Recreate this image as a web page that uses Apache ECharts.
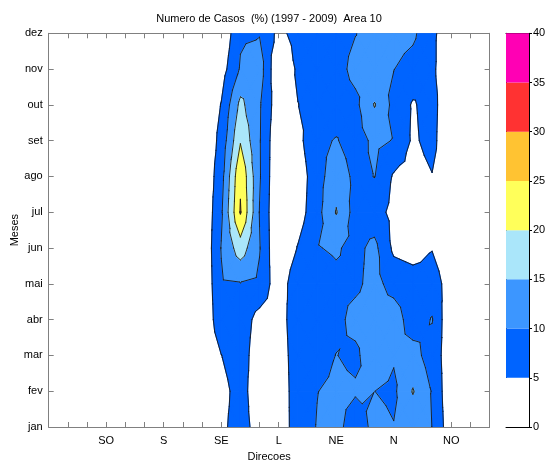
<!DOCTYPE html>
<html>
<head>
<meta charset="utf-8">
<script src="https://cdn.jsdelivr.net/npm/echarts@6/dist/echarts.min.js"></script>
<style>
  html, body { margin: 0; padding: 0; background: #fff; }
  #chart { width: 545px; height: 461px; }
</style>
</head>
<body>
<div id="chart"></div>
<script>
// months (rows, bottom to top) and direction labels
const meses = ['jan', 'fev', 'mar', 'abr', 'mai', 'jun', 'jul', 'ago', 'set', 'out', 'nov', 'dez'];
const direcoes = ['SO', 'S', 'SE', 'L', 'NE', 'N', 'NO'];
const niveis = [0, 5, 10, 15, 20, 25, 30, 35, 40];

// percent of cases per direction column (24 columns, 15 deg apart)
const casosJan = [0, 0, 0, 0, 0, 0, 0, 0, 0, 4.0, 7.0, 3.0, 2.0, 7.4, 10.2, 11.9, 6.8, 11.6, 10.2, 12.0, 9.95, 1.6, 0, 0];
const casosFev = [0, 0, 0, 0, 0, 0, 0, 0, 0, 3.3, 7.0, 1.7, 2.0, 7.5, 9.9, 11.0, 10.6, 10.02, 9.06, 15.3, 9.7, 0.7, 0, 0];
const casosMar = [0, 0, 0, 0, 0, 0, 0, 0, 0, 4.9, 8.0, 1.3, 2.0, 8.0, 8.0, 10.1, 9.0, 13.2, 10.5, 12.0, 7.5, 2.2, 0, 0];
const casosAbr = [0, 0, 0, 0, 0, 0, 0, 0, 0, 8.5, 8.0, 3.0, 2.5, 8.4, 8.0, 8.7, 11.5, 12.0, 12.7, 7.3, 10.3, 0.1, 0, 0];
const casosMai = [0, 0, 0, 0, 0, 0, 0, 0, 0, 9.5, 9.8, 9.1, 1.5, 9.0, 8.0, 9.0, 9.1, 11.5, 8.2, 7.2, 7.0, 3.0, 0, 0];
const casosJun = [0, 0, 0, 0, 0, 0, 0, 0, 0, 10.2, 17.6, 10.3, 0, 5.3, 9.8, 10.5, 8.7, 11.3, 4.0, 3.0, 4.8, 2.0, 0, 0];
const casosJul = [0, 0, 0, 0, 0, 0, 0, 0, 0, 9.2, 25.4, 9.8, 0, 2.6, 8.3, 15.3, 7.9, 7.0, 3.6, 1.0, 1.0, 0, 0, 0];
const casosAgo = [0, 0, 0, 0, 0, 0, 0, 0, 0, 8.0, 24.3, 10.5, 0, 2.0, 8.0, 13.0, 8.8, 10.1, 4.4, 3.0, 4.8, 1.0, 0, 0];
const casosSet = [0, 0, 0, 0, 0, 0, 0, 0, 0, 6.6, 19.6, 10.4, 0.4, 3.5, 8.9, 10.3, 8.0, 11.0, 9.8, 4.2, 6.6, 0, 0, 0];
const casosOut = [0, 0, 0, 0, 0, 0, 0, 0, 0, 5.2, 16.3, 10.6, 1.7, 4.9, 7.0, 7.5, 8.7, 15.3, 8.5, 4.5, 7.0, 0, 0, 0];
const casosNov = [0, 0, 0, 0, 0, 0, 0, 0, 0, 2.7, 10.5, 12.5, 0, 5.9, 7.0, 8.0, 11.6, 11.0, 10.1, 8.0, 6.0, 0.7, 0, 0];
const casosDez = [0, 0, 0, 0, 0, 0, 0, 0, 0, 0.5, 9.3, 9.7, 3.6, 6.9, 7.5, 8.0, 9.85, 12.0, 12.0, 11.0, 6.0, 1.8, 0, 0];

const grade = [casosJan, casosFev, casosMar, casosAbr, casosMai, casosJun,
               casosJul, casosAgo, casosSet, casosOut, casosNov, casosDez];

const cores = ['#ffffff', '#0064ff', '#3c96ff', '#aae6fa', '#ffff5a', '#ffc332', '#ff3232', '#ff00b4'];
const fonte = 'Liberation Sans, Arial, sans-serif';

const nCols = casosJan.length;
const nRows = grade.length;

// keep the part of a polygon above (or below) a level, interpolating linearly
function corta(poly, nivel, acima) {
    const out = [];
    for (let k = 0; k < poly.length; k++) {
        const a = poly[k], b = poly[(k + 1) % poly.length];
        const ina = acima ? a.v >= nivel : a.v <= nivel;
        const inb = acima ? b.v >= nivel : b.v <= nivel;
        if (ina) out.push(a);
        if (ina !== inb) {
            const t = (nivel - a.v) / (b.v - a.v);
            out.push({x: a.x + t * (b.x - a.x), y: a.y + t * (b.y - a.y), v: nivel});
        }
    }
    return out;
}

function triangulos(i, j) {
    const p00 = {x: i, y: j, v: grade[j][i]};
    const p10 = {x: i + 1, y: j, v: grade[j][i + 1]};
    const p11 = {x: i + 1, y: j + 1, v: grade[j + 1][i + 1]};
    const p01 = {x: i, y: j + 1, v: grade[j + 1][i]};
    const c = {x: i + 0.5, y: j + 0.5, v: (p00.v + p10.v + p11.v + p01.v) / 4};
    return [[p00, p10, c], [p10, p11, c], [p11, p01, c], [p01, p00, c]];
}

const celulas = [];
for (let j = 0; j < nRows - 1; j++) {
    for (let i = 0; i < nCols - 1; i++) celulas.push([i, j]);
}

function desenhaFaixas(params, api) {
    const i = api.value(0), j = api.value(1);
    const children = [];
    triangulos(i, j).forEach(function (tri) {
        for (let k = 1; k < niveis.length - 1; k++) {
            const poly = corta(corta(tri, niveis[k], true), niveis[k + 1], false);
            if (poly.length < 3) continue;
            children.push({
                type: 'polygon',
                shape: {points: poly.map(p => api.coord([p.x, p.y]))},
                style: {fill: cores[k], stroke: cores[k], lineWidth: 1.2, lineJoin: 'round'}
            });
        }
    });
    return {type: 'group', children: children};
}

function desenhaLinhas(params, api) {
    const i = api.value(0), j = api.value(1);
    const children = [];
    triangulos(i, j).forEach(function (tri) {
        for (let k = 1; k < niveis.length - 1; k++) {
            const L = niveis[k];
            const pts = [];
            for (let e = 0; e < 3; e++) {
                const a = tri[e], b = tri[(e + 1) % 3];
                if ((a.v >= L) !== (b.v >= L)) {
                    const t = (L - a.v) / (b.v - a.v);
                    pts.push(api.coord([a.x + t * (b.x - a.x), a.y + t * (b.y - a.y)]));
                }
            }
            if (pts.length === 2) {
                children.push({
                    type: 'line',
                    shape: {x1: pts[0][0], y1: pts[0][1], x2: pts[1][0], y2: pts[1][1]},
                    style: {stroke: '#1a1a1a', lineWidth: 0.9, lineCap: 'round'}
                });
            }
        }
    });
    return {type: 'group', children: children};
}

const faixasBarra = [];
for (let k = 0; k < niveis.length - 1; k++) faixasBarra.push([k, niveis[k], niveis[k + 1]]);

const corEixo = '#808080';
const txt = {color: '#000', fontFamily: fonte, fontSize: 11};
const linhaMain = {show: true, onZero: false, lineStyle: {color: corEixo}};
const tickMain = {show: true, inside: true, length: 5, lineStyle: {color: corEixo}};
const linhaBarra = {show: true, onZero: false, lineStyle: {color: '#000'}};

const chart = echarts.init(document.getElementById('chart'));
chart.setOption({
    animation: false,
    backgroundColor: '#fff',
    graphic: [{
        type: 'text', x: 269, y: 19,
        style: {text: 'Numero de Casos  (%) (1997 - 2009)  Area 10', fill: '#000',
            font: '11px ' + fonte, textAlign: 'center', textVerticalAlign: 'middle'}
    }],
    grid: [
        {left: 48.7, top: 33.3, width: 440.9, height: 393.7, containLabel: false, outerBoundsMode: 'none'},
        {left: 506, top: 33.3, width: 23, height: 393.7, containLabel: false, outerBoundsMode: 'none'}
    ],
    xAxis: [
        {
            gridIndex: 0, type: 'value', min: 0, max: nCols - 1, interval: 1, position: 'bottom',
            axisLine: linhaMain, axisTick: tickMain,
            axisLabel: Object.assign({
                margin: 8,
                formatter: function (v) {
                    const k = v / 3 - 1;
                    return (v % 3 === 0 && k >= 0 && k < direcoes.length) ? direcoes[k] : '';
                }
            }, txt),
            splitLine: {show: false},
            name: 'Direcoes', nameLocation: 'middle', nameGap: 24, nameMoveOverlap: false,
            nameTextStyle: txt
        },
        {
            gridIndex: 0, type: 'value', min: 0, max: nCols - 1, interval: 1, position: 'top',
            axisLine: linhaMain, axisTick: tickMain,
            axisLabel: {show: false}, splitLine: {show: false}
        },
        {
            gridIndex: 1, type: 'value', min: 0, max: 1, position: 'bottom',
            axisLine: linhaBarra, axisTick: {show: false}, axisLabel: {show: false}, splitLine: {show: false}
        },
        {
            gridIndex: 1, type: 'value', min: 0, max: 1, position: 'top',
            axisLine: linhaBarra, axisTick: {show: false}, axisLabel: {show: false}, splitLine: {show: false}
        }
    ],
    yAxis: [
        {
            gridIndex: 0, type: 'value', min: 0, max: nRows - 1, interval: 1, position: 'left',
            axisLine: linhaMain, axisTick: tickMain,
            axisLabel: Object.assign({margin: 6, formatter: v => meses[v] || ''}, txt),
            splitLine: {show: false},
            name: 'Meses', nameLocation: 'middle', nameGap: 28, nameRotate: 90, nameMoveOverlap: false,
            nameTextStyle: txt
        },
        {
            gridIndex: 0, type: 'value', min: 0, max: nRows - 1, interval: 1, position: 'right',
            axisLine: linhaMain, axisTick: tickMain,
            axisLabel: {show: false}, splitLine: {show: false}
        },
        {
            gridIndex: 1, type: 'value', min: 0, max: 40, interval: 5, position: 'left',
            axisLine: linhaBarra, axisTick: {show: false}, axisLabel: {show: false}, splitLine: {show: false}
        },
        {
            gridIndex: 1, type: 'value', min: 0, max: 40, interval: 5, position: 'right',
            axisLine: linhaBarra,
            axisTick: {show: true, inside: false, length: 3, lineStyle: {color: '#000'}},
            axisLabel: Object.assign({margin: 4}, txt), splitLine: {show: false}
        }
    ],
    series: [
        {
            type: 'custom', xAxisIndex: 0, yAxisIndex: 0, data: celulas,
            renderItem: desenhaFaixas, clip: true, silent: true, z: 1
        },
        {
            type: 'custom', xAxisIndex: 0, yAxisIndex: 0, data: celulas,
            renderItem: desenhaLinhas, clip: true, silent: true, z: 2
        },
        {
            type: 'custom', xAxisIndex: 2, yAxisIndex: 2, data: faixasBarra,
            renderItem: function (params, api) {
                const k = api.value(0);
                const p0 = api.coord([0, api.value(1)]);
                const p1 = api.coord([1, api.value(2)]);
                return {
                    type: 'rect',
                    shape: {x: p0[0], y: p1[1], width: p1[0] - p0[0], height: p0[1] - p1[1]},
                    style: {fill: cores[k]}
                };
            },
            silent: true, z: 1
        }
    ]
});
</script>
</body>
</html>
